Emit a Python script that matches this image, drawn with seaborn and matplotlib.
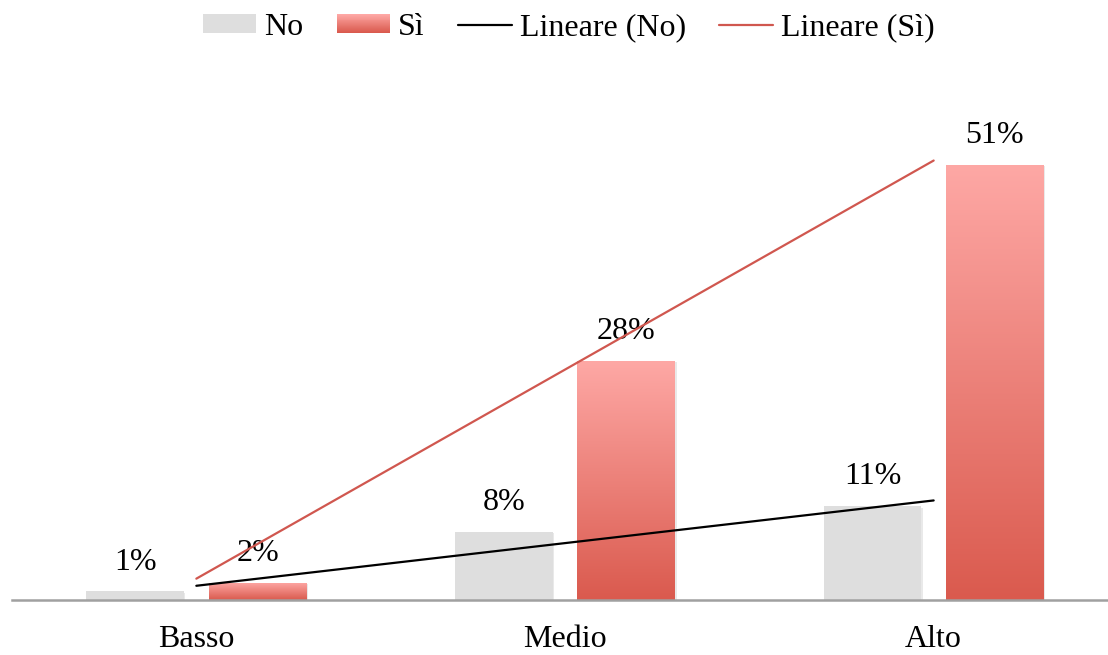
import numpy as np
import pandas as pd
import matplotlib
matplotlib.use("Agg")
import matplotlib.pyplot as plt
import seaborn as sns
from matplotlib.patches import Rectangle, Patch
from matplotlib.lines import Line2D
from matplotlib.legend_handler import HandlerBase
from matplotlib.colors import LinearSegmentedColormap
import matplotlib.patheffects as pe

categories = ["Basso", "Medio", "Alto"]
no_values = [1, 8, 11]
si_values = [2, 28, 51]
series_names = ["No", "Sì"]

GREY = "#DEDEDE"
RED_TOP = "#FEA8A5"
RED_BOTTOM = "#DA5A4E"
TREND_RED = "#D0574F"
red_grad = LinearSegmentedColormap.from_list("red_grad", [RED_BOTTOM, RED_TOP])

sns.set_theme(style="white")
plt.rcParams["font.family"] = ["Liberation Serif", "DejaVu Serif"]
plt.rcParams["text.color"] = "black"
FS = 23

df = pd.DataFrame({
    "categoria": categories * 2,
    "serie": ["No"] * 3 + ["Sì"] * 3,
    "valore": no_values + si_values,
})

fig = plt.figure(figsize=(11.08, 6.55), dpi=100)
ax = fig.add_axes([12 / 1108, 55 / 655, 1106 / 1108, 512 / 655])

sns.barplot(data=df, x="categoria", y="valore", hue="serie", order=categories,
            hue_order=series_names, palette=[GREY, RED_BOTTOM],
            width=0.664, gap=0.2, ax=ax, legend=False, errorbar=None)

shadow = [pe.SimplePatchShadow(offset=(1, -1), shadow_rgbFace="#AAAAAA", alpha=0.25), pe.Normal()]
bars = list(ax.patches)
values = no_values + si_values
grad = np.linspace(0, 1, 256).reshape(-1, 1)
for i, (bar, v) in enumerate(zip(bars, values)):
    bar.set_edgecolor("none")
    bar.set_path_effects(shadow)
    x0, w = bar.get_x(), bar.get_width()
    h = bar.get_height()
    if i >= 3:
        im = ax.imshow(grad, cmap=red_grad, origin="lower", aspect="auto",
                       extent=(x0, x0 + w, 0, h), zorder=bar.get_zorder() + 0.1)
        im.set_clip_path(bar)
    ax.annotate(f"{v}%", (x0 + w / 2, h), xytext=(0, 21), textcoords="offset points",
                ha="center", va="center", fontsize=FS, color="black")

# linear trend lines across the category positions
xs = np.arange(len(categories))
for vals, col in [(no_values, "black"), (si_values, TREND_RED)]:
    k, b = np.polyfit(xs, vals, 1)
    ax.plot([xs[0], xs[-1]], [k * xs[0] + b, k * xs[-1] + b], color=col, lw=1.6, zorder=5)

ax.set_xlim(-0.5, 2.5)
ax.set_ylim(0, 60)
ax.set_xlabel("")
ax.set_ylabel("")
ax.set_yticks([])
ax.tick_params(axis="x", length=0, pad=18, labelsize=FS, labelcolor="black")
for s in ["top", "right", "left"]:
    ax.spines[s].set_visible(False)
ax.spines["bottom"].set_color("#A0A0A0")
ax.spines["bottom"].set_linewidth(1.8)
ax.set_facecolor("white")


class GradientHandler(HandlerBase):
    def create_artists(self, legend, orig_handle, xdescent, ydescent, width, height, fontsize, trans):
        n = 20
        arts = []
        for j in range(n):
            c = red_grad(1 - j / (n - 1))
            arts.append(Rectangle((-xdescent, -ydescent + height * (1 - (j + 1) / n)), width, height / n + 0.3,
                                  facecolor=c, edgecolor="none", transform=trans))
        return arts


h_no = Patch(facecolor=GREY, edgecolor="none")
h_si = Patch(facecolor=RED_BOTTOM, edgecolor="none")
h_lno = Line2D([], [], color="black", lw=1.6)
h_lsi = Line2D([], [], color=TREND_RED, lw=1.6)
leg = fig.legend([h_no, h_si, h_lno, h_lsi], ["No", "Sì", "Lineare (No)", "Lineare (Sì)"],
                 handler_map={h_si: GradientHandler()},
                 loc="center", bbox_to_anchor=(0.513, 0.958), ncol=4, frameon=False,
                 fontsize=FS, handlelength=1.67, handleheight=0.53, handletextpad=0.25,
                 columnspacing=1.05, borderpad=0, borderaxespad=0)
for t in leg.get_texts():
    t.set_color("black")

fig.savefig("out.png", dpi=100, facecolor="white")
